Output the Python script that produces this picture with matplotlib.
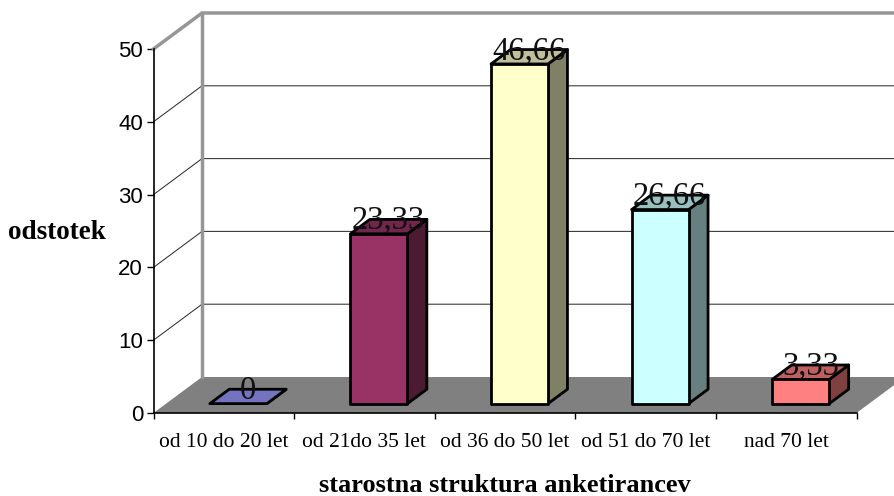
import matplotlib.pyplot as plt
from matplotlib.patches import Polygon

W, H = 895, 496

categories = ['od 10 do 20 let', 'od 21do 35 let', 'od 36 do 50 let',
              'od 51 do 70 let', 'nad 70 let']
values = [0, 23.33, 46.66, 26.66, 3.33]
value_labels = ['0', '23,33', '46,66', '26,66', '3,33']
front_colors = ['#9999FF', '#993366', '#FFFFCC', '#CCFFFF', '#FF8080']
top_colors = ['#7373BF', '#73264D', '#BFBF99', '#99BFBF', '#BF6060']
side_colors = ['#4D4D80', '#4D1A33', '#808066', '#668080', '#804040']
y_ticks = [0, 10, 20, 30, 40, 50]

WALL = '#969696'
FLOOR = '#808080'

# depth of the fake 3d box, in axis units
DX = 48.5 / 140.6
DY = 36 / 7.28
BAR_W = 57 / 140.6


def poly(ax, pts, color, edge='none', lw=0.0, z=1):
    ax.add_patch(Polygon(pts, closed=True, facecolor=color, edgecolor=edge,
                         linewidth=lw, joinstyle='round', clip_on=False, zorder=z))


def draw_bar(ax, i, value, front, top, side):
    # bars sit in the middle of the floor depth
    x0 = i + 0.5 - BAR_W / 2 + 0.30 * DX
    x1 = x0 + BAR_W
    y0 = 0.26 * DY
    y1 = y0 + value
    dx = 0.40 * DX
    dy = 0.40 * DY
    poly(ax, [(x1, y0), (x1 + dx, y0 + dy), (x1 + dx, y1 + dy), (x1, y1)],
         side, 'black', 2, 4)
    poly(ax, [(x0, y1), (x1, y1), (x1 + dx, y1 + dy), (x0 + dx, y1 + dy)],
         top, 'black', 2, 4)
    if value > 0:
        poly(ax, [(x0, y0), (x1, y0), (x1, y1), (x0, y1)],
             front, 'black', 2, 4)
    return (x0 + x1 + dx) / 2, y1


def main():
    plt.rcParams['font.family'] = 'Liberation Serif'
    fig = plt.figure(figsize=(W / 100, H / 100), dpi=100)
    ax = fig.add_axes([153.5 / W, (H - 413) / H, 703 / W, 364 / H])
    ax.set_xlim(0, 5)
    ax.set_ylim(0, 50)
    ax.patch.set_visible(False)

    # floor
    poly(ax, [(0, 0), (DX, DY), (5 + DX, DY), (5, 0)], FLOOR, z=1)

    # gridlines on the back and side walls
    for v in y_ticks[1:-1]:
        ax.plot([0, DX, 5 + DX], [v, v + DY, v + DY], color='#303030', lw=0.75,
                clip_on=False, zorder=1)
    ax.plot([0, DX, 5 + DX], [50, 50 + DY, 50 + DY], color=WALL, lw=2.5,
            clip_on=False, zorder=2)
    ax.plot([DX, DX], [DY, 50 + DY], color=WALL, lw=2.5, clip_on=False, zorder=2)

    for i, value in enumerate(values):
        cx, ytop = draw_bar(ax, i, value, front_colors[i], top_colors[i], side_colors[i])
        ax.text(cx, ytop + 0.7, value_labels[i], fontsize=23.5, ha='center',
                va='baseline', color='#101010', zorder=6, clip_on=False)

    for name in ['top', 'right']:
        ax.spines[name].set_visible(False)
    for name in ['left', 'bottom']:
        ax.spines[name].set_linewidth(1.2)
        ax.spines[name].set_zorder(3)

    ax.set_yticks(y_ticks)
    ax.set_yticklabels([str(v) for v in y_ticks], family='Liberation Sans', fontsize=16)
    ax.tick_params(axis='y', length=5, width=1.0, pad=2.5)

    # ticks between the categories, labels in the middle
    ax.set_xticks(range(6))
    ax.set_xticklabels([])
    ax.tick_params(axis='x', which='major', length=4.5, width=1.0)
    ax.set_xticks([i + 0.5 for i in range(5)], minor=True)
    ax.set_xticklabels(categories, minor=True, fontsize=15.5)
    ax.tick_params(axis='x', which='minor', length=0, pad=14.5)

    fig.text(57 / W, 1 - 232.5 / H, 'odstotek', fontsize=19.5, fontweight='bold',
             ha='center', va='center')
    fig.text(505 / W, 1 - 486 / H, 'starostna struktura anketirancev', fontsize=19,
             fontweight='bold', ha='center', va='center')

    fig.savefig('out.png', dpi=100)


if "__main__" == __name__:
    main()
